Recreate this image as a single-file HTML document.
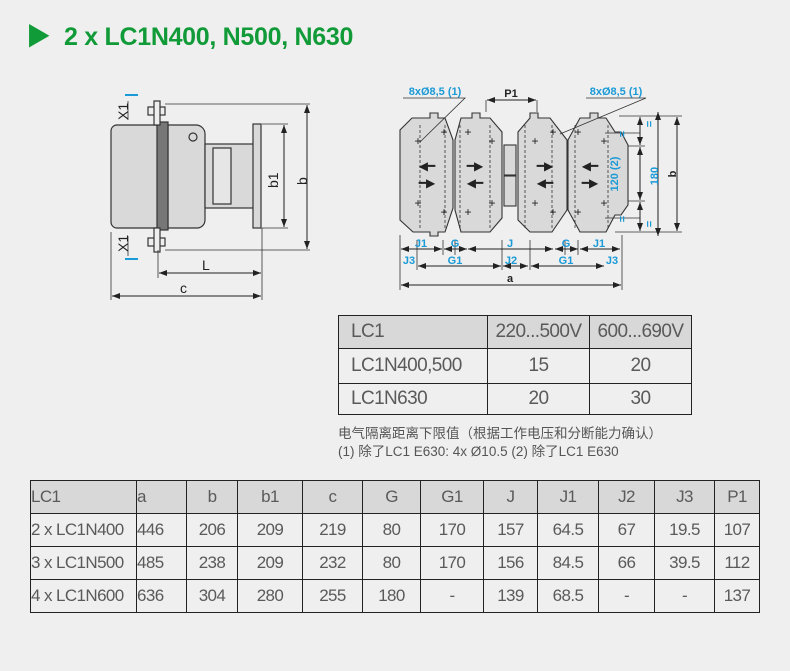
<!DOCTYPE html>
<html><head><meta charset="utf-8"><style>
body{margin:0;background:#efefef;width:790px;height:671px;overflow:hidden;font-family:"Liberation Sans","Noto Sans CJK SC",sans-serif;position:relative}
.t{position:absolute;left:26px;top:17px;color:#119b38;font-weight:bold;font-size:25px;letter-spacing:-0.3px}
table{position:absolute;border-collapse:collapse;color:#5a5a5a}
td{border:1px solid #222;padding:0;text-align:center;font-size:17px;letter-spacing:-0.6px}
tr.h td{background:#d8d8d8}
.s td{font-size:19px}
.note{position:absolute;left:338px;top:425px;font-size:13.5px;color:#555;line-height:18px}
</style></head><body>
<div class="t">▶&nbsp; 2 x LC1N400, N500, N630</div>
<svg width="790" height="310" style="position:absolute;left:0;top:0" font-family="Liberation Sans" >
<defs><marker id="a" markerWidth="8" markerHeight="6" refX="8" refY="3" orient="auto-start-reverse"><path d="M0,0L8,3L0,6z" fill="#222"/></marker></defs>
<g stroke="#333" stroke-width="1.2" fill="#d9d9d9">
<rect x="111" y="125" width="50" height="103" rx="6"/>
<path d="M168,125H196a9,9 0 0 1 9,9V220a8,8 0 0 1 -8,8H168z"/>
<rect x="157" y="122" width="11" height="108" fill="#777"/>
<circle cx="193" cy="137" r="4" fill="none"/>
<rect x="205" y="144" width="50" height="64"/>
<rect x="213" y="148" width="18" height="56" fill="#e6e6e6"/>
<rect x="253" y="124" width="8" height="104"/>
<rect x="148" y="107" width="17" height="8" fill="#eee"/><rect x="154" y="101" width="6" height="24" fill="#eee"/>
<rect x="148" y="238" width="17" height="8" fill="#eee"/><rect x="154" y="228" width="6" height="24" fill="#eee"/>
</g>
<g stroke="#333" stroke-width="0.8" fill="none">
<path d="M165,104H310M165,250H310M262,124H288M262,228H288M158,250V278M262,228V300M111,232V300M128,101V120M128,236V256"/>
</g>
<g stroke="#222" stroke-width="1" marker-start="url(#a)" marker-end="url(#a)">
<line x1="307" y1="105" x2="307" y2="249"/><line x1="284" y1="125" x2="284" y2="227"/>
<line x1="159" y1="273" x2="261" y2="273"/><line x1="112" y1="296" x2="261" y2="296"/>
</g>
<path d="M125,95H138M125,259H138" stroke="#1a9ad6" stroke-width="2"/>
<g font-size="14" fill="#222">
<text x="268" y="182" transform="rotate(-90 276 180)">b1</text>
<text x="296" y="182" transform="rotate(-90 303 178)">b</text>
<text x="202" y="270">L</text><text x="180" y="293">c</text>
<text x="114" y="118" transform="rotate(-90 122 112)">X1</text>
<text x="114" y="250" transform="rotate(-90 122 244)">X1</text>
</g>
<g stroke="#333" stroke-width="1.1" fill="#d9d9d9">
<path d="M400,130L412,118H430V113H438V118H445L453,140V208L445,232H438V236H430V232H413L400,220Z"/>
<path d="M455,140L461,118H472V113H480V118H490L502,132V218L490,232H461L455,210Z"/>
<rect x="504" y="145" width="12" height="30"/><rect x="504" y="176" width="12" height="30"/>
<path d="M518,132L530,118H530V113H538V118H550L567,140V210L552,232H530L518,220Z"/>
<path d="M568,140L580,118H590V113H598V118H606L615,132H621L628,145V205L621,215H615L606,232H580L568,210Z"/>
</g>
<g stroke="#333" stroke-width="0.8" stroke-dasharray="3,2" fill="none">
<path d="M420,125V230M445,125V230M460,125V230M490,125V230M525,125V230M552,125V230M575,125V230M608,125V230"/>
</g>
<g font-size="12" fill="#222" text-anchor="middle">
<text x="427" y="170">◀━</text><text x="427" y="187">━▶</text><text x="475" y="170">━▶</text><text x="475" y="187">◀━</text>
<text x="545" y="170">━▶</text><text x="545" y="187">◀━</text><text x="590" y="170">◀━</text><text x="590" y="187">━▶</text>
<text x="418" y="145">+</text><text x="444" y="136">+</text><text x="468" y="136">+</text><text x="492" y="145">+</text>
<text x="418" y="207">+</text><text x="444" y="216">+</text><text x="468" y="216">+</text><text x="492" y="207">+</text>
<text x="553" y="136">+</text><text x="578" y="136">+</text><text x="604" y="145">+</text><text x="535" y="145">+</text>
<text x="553" y="216">+</text><text x="578" y="216">+</text><text x="604" y="207">+</text><text x="535" y="207">+</text>
</g>
<g stroke="#333" stroke-width="0.8" fill="none">
<path d="M403,98H465L420,142M586,98H646L560,134M486,100V112M537,100V112M400,235V290M622,235V290M619,116H682M605,133H640M628,146H645M628,201H645M605,218H640M615,232H682M417,240V270M443,240V255M455,240V255M502,240V270M530,240V270M565,240V255M578,240V255"/>
</g>
<g stroke="#222" stroke-width="1" marker-start="url(#a)" marker-end="url(#a)">
<line x1="487" y1="100" x2="536" y2="100"/>
<line x1="401" y1="249" x2="442" y2="249"/><line x1="444" y1="249" x2="467" y2="249"/><line x1="468" y1="249" x2="553" y2="249"/><line x1="555" y1="249" x2="578" y2="249"/><line x1="580" y1="249" x2="620" y2="249"/>
<line x1="418" y1="266" x2="501" y2="266"/><line x1="503" y1="266" x2="528" y2="266"/><line x1="531" y1="266" x2="604" y2="266"/>
<line x1="401" y1="285" x2="621" y2="285"/>
<line x1="640" y1="117" x2="640" y2="145"/><line x1="640" y1="147" x2="640" y2="200"/><line x1="640" y1="202" x2="640" y2="231"/>
<line x1="658" y1="112" x2="658" y2="236"/><line x1="677" y1="117" x2="677" y2="231"/>
</g>
<g font-size="11" fill="#1a9ad6" font-weight="bold" text-anchor="middle">
<text x="435" y="95">8xØ8,5 (1)</text><text x="616" y="95">8xØ8,5 (1)</text>
<text x="421" y="247">J1</text><text x="455" y="247">G</text><text x="510" y="247">J</text><text x="566" y="247">G</text><text x="599" y="247">J1</text>
<text x="409" y="264">J3</text><text x="455" y="264">G1</text><text x="511" y="264">J2</text><text x="566" y="264">G1</text><text x="612" y="264">J3</text>
<text x="632" y="160" transform="rotate(-90 632 174)">120 (2)</text>
<text x="651" y="175" transform="rotate(-90 655 172)">180</text>
<text x="650" y="127" transform="rotate(-90 650 124)">=</text><text x="650" y="227" transform="rotate(-90 650 224)">=</text>
<text x="623" y="137" transform="rotate(-90 623 134)">=</text><text x="623" y="222" transform="rotate(-90 623 219)">=</text>
</g>
<g font-size="11" fill="#222" font-weight="bold" text-anchor="middle"><text x="511" y="97">P1</text><text x="510" y="282">a</text><text x="670" y="176" transform="rotate(-90 672 172)">b</text></g>
</svg>
<table class="s" style="left:338px;top:315px;width:354px">
<tr class="h" style="height:33px"><td style="text-align:left;padding-left:12px;width:136px">LC1</td><td>220...500V</td><td>600...690V</td></tr>
<tr style="height:35px"><td style="text-align:left;padding-left:12px">LC1N400,500</td><td>15</td><td>20</td></tr>
<tr style="height:31px"><td style="text-align:left;padding-left:12px">LC1N630</td><td>20</td><td>30</td></tr>
</table>
<div class="note">电气隔离距离下限值（根据工作电压和分断能力确认）<br>(1) 除了LC1 E630: 4x Ø10.5 (2) 除了LC1 E630</div>
<table style="left:30px;top:480px;width:730px">
<tr class="h" style="height:33px"><td style="text-align:left;width:105px">LC1</td><td style="text-align:left;width:49px">a</td><td style="width:50px">b</td><td style="width:64px">b1</td><td style="width:59px">c</td><td style="width:57px">G</td><td style="width:62px">G1</td><td style="width:53px">J</td><td style="width:60px">J1</td><td style="width:55px">J2</td><td style="width:59px">J3</td><td>P1</td></tr>
<tr style="height:33px"><td style="text-align:left">2 x LC1N400</td><td style="text-align:left">446</td><td>206</td><td>209</td><td>219</td><td>80</td><td>170</td><td>157</td><td>64.5</td><td>67</td><td>19.5</td><td>107</td></tr>
<tr style="height:33px"><td style="text-align:left">3 x LC1N500</td><td style="text-align:left">485</td><td>238</td><td>209</td><td>232</td><td>80</td><td>170</td><td>156</td><td>84.5</td><td>66</td><td>39.5</td><td>112</td></tr>
<tr style="height:33px"><td style="text-align:left">4 x LC1N600</td><td style="text-align:left">636</td><td>304</td><td>280</td><td>255</td><td>180</td><td>-</td><td>139</td><td>68.5</td><td>-</td><td>-</td><td>137</td></tr>
</table>
</body></html>
